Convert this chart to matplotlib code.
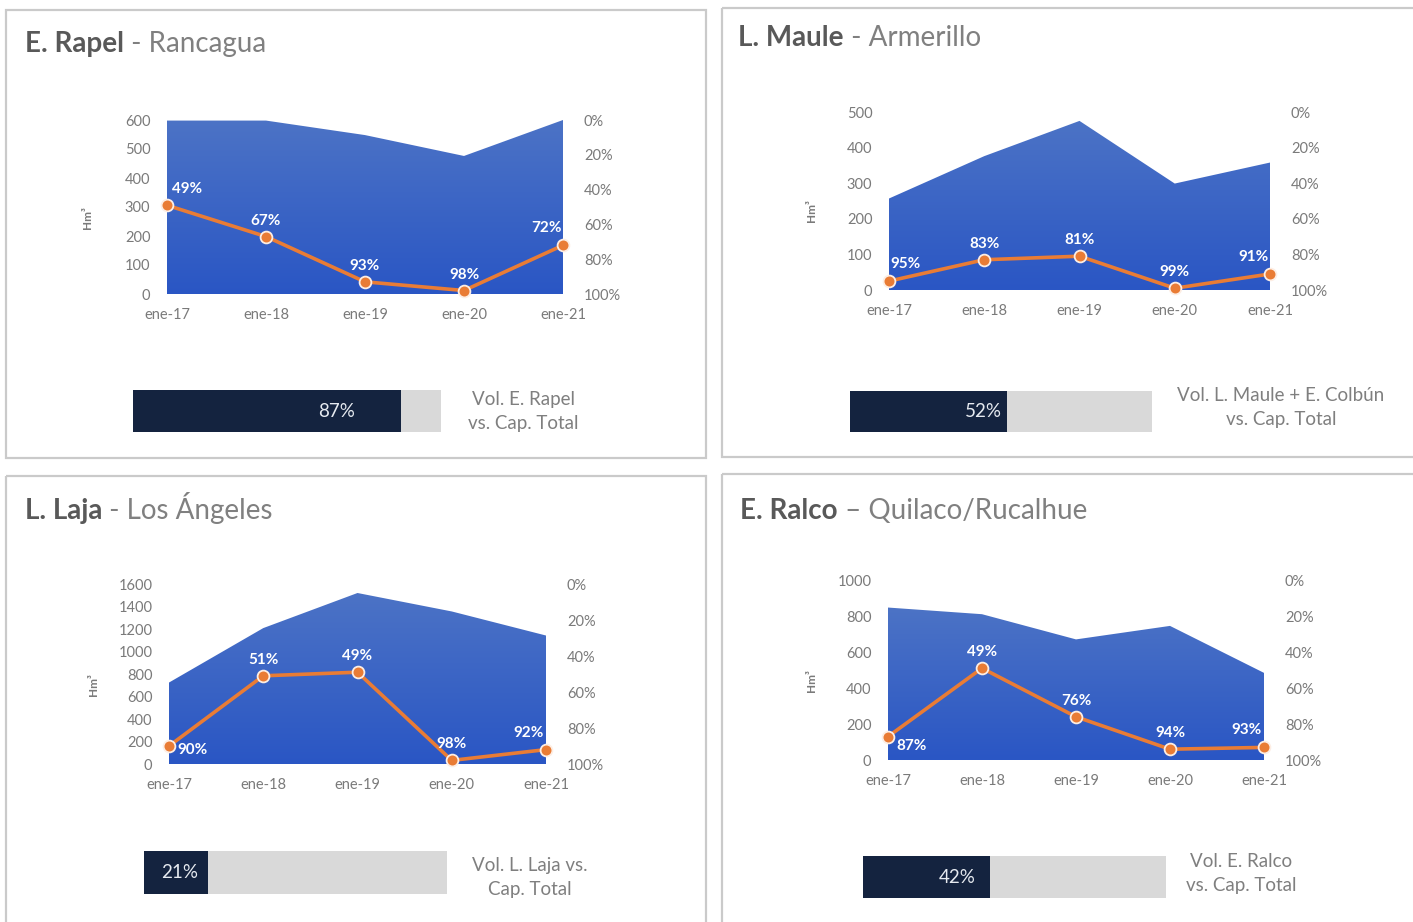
import numpy as np
import matplotlib
matplotlib.use("Agg")
import matplotlib.pyplot as plt
from matplotlib.patches import Rectangle
from matplotlib.colors import LinearSegmentedColormap
from matplotlib.ticker import FuncFormatter

plt.rcParams["font.family"] = ["Lato", "DejaVu Sans"]

# ---- data -------------------------------------------------------------
months = ["ene-17", "ene-18", "ene-19", "ene-20", "ene-21"]

rapel_vol = [598, 598, 548, 476, 600]
rapel_pct = [49, 67, 93, 98, 72]
rapel_cap = 87

maule_vol = [257, 376, 475, 299, 358]
maule_pct = [95, 83, 81, 99, 91]
maule_cap = 52

laja_vol = [724, 1208, 1520, 1356, 1142]
laja_pct = [90, 51, 49, 98, 92]
laja_cap = 21

ralco_vol = [847, 810, 670, 745, 484]
ralco_pct = [87, 49, 76, 94, 93]
ralco_cap = 42

# ---- layout (pixel coordinates, origin top-left) ------------------------
W, H, DPI = 1413, 922, 100

panels = [
    dict(name="E. Rapel", place=" - Rancagua", vol=rapel_vol, pct=rapel_pct, cap=rapel_cap,
         caption="Vol. E. Rapel\nvs. Cap. Total",
         box=(6, 10, 706, 458), title=(25, 52), plot=(167, 120, 563, 294),
         ymax=600, step=100, ylab=(88, 218), first_off=(20, 16),
         bar=(133, 390, 441, 432), bar_off=-64, cap_xy=(523, 411)),
    dict(name="L. Maule", place=" - Armerillo", vol=maule_vol, pct=maule_pct, cap=maule_cap,
         caption="Vol. L. Maule + E. Colbún\nvs. Cap. Total",
         box=(722, 8, 1422, 457), title=(738, 46), plot=(889, 112, 1270, 290),
         ymax=500, step=100, ylab=(812, 211), first_off=(16, 17),
         bar=(850, 391, 1152, 432), bar_off=-24, cap_xy=(1281, 407)),
    dict(name="L. Laja", place=" - Los Ángeles", vol=laja_vol, pct=laja_pct, cap=laja_cap,
         caption="Vol. L. Laja vs.\nCap. Total",
         box=(6, 476, 706, 930), title=(25, 519), plot=(169, 584, 546, 764),
         ymax=1600, step=200, ylab=(94, 685), first_off=(23, -4),
         bar=(144, 851, 447, 894), bar_off=-28, cap_xy=(530, 877)),
    dict(name="E. Ralco", place=" – Quilaco/Rucalhue", vol=ralco_vol, pct=ralco_pct, cap=ralco_cap,
         caption="Vol. E. Ralco\nvs. Cap. Total",
         box=(722, 474, 1422, 930), title=(740, 519), plot=(888, 580, 1264, 760),
         ymax=1000, step=200, ylab=(812, 681), first_off=(24, -9),
         bar=(863, 856, 1166, 898), bar_off=-33, cap_xy=(1241, 873)),
]

AREA_CMAP = LinearSegmentedColormap.from_list("area", ["#2a56c4", "#4c73c6"])
ORANGE = "#E97C35"
NAVY = "#14233f"
BAR_GREY = "#d9d9d9"
TICK_GREY = "#7a7a7a"
BORDER = "#cacaca"


def frac_rect(x0, y0, x1, y1):
    return [x0 / W, 1 - y1 / H, (x1 - x0) / W, (y1 - y0) / H]


fig = plt.figure(figsize=(W / DPI, H / DPI), dpi=DPI)
fig.patch.set_facecolor("white")

bg = fig.add_axes([0, 0, 1, 1])
bg.set_xlim(0, W)
bg.set_ylim(H, 0)
bg.axis("off")

pct_fmt = FuncFormatter(lambda v, _: f"{int(round(v))}%")

for p in panels:
    # panel frame
    x0, y0, x1, y1 = p["box"]
    bg.add_patch(Rectangle((x0, y0), x1 - x0, y1 - y0, fill=False,
                           edgecolor=BORDER, lw=1.6))

    # title: bold reservoir name followed by lighter location
    tx, ty = p["title"]
    t1 = bg.text(tx, ty, p["name"], fontsize=20, fontweight="bold",
                 color="#595959", va="baseline", ha="left")
    bg.annotate(p["place"], xy=(1, 0), xycoords=t1, va="bottom", ha="left",
                fontsize=20, fontweight="normal", color="#808080")

    # y-axis unit label
    lx, ly = p["ylab"]
    bg.text(lx, ly, "Hm³", rotation=90, fontsize=8.5, fontweight="bold",
            color=TICK_GREY, ha="center", va="center")

    # volume area with vertical gradient
    ax = fig.add_axes(frac_rect(*p["plot"]))
    ax.set_facecolor("none")
    x = np.arange(len(months))
    vol = np.asarray(p["vol"], dtype=float)
    poly = ax.fill_between(x, vol, 0, color="none", lw=0)
    grad = np.linspace(0, 1, 256)[:, None]
    im = ax.imshow(grad, extent=[x[0], x[-1], 0, vol.max()], origin="lower",
                   aspect="auto", cmap=AREA_CMAP, zorder=1)
    im.set_clip_path(poly.get_paths()[0], transform=ax.transData)
    ax.set_xlim(x[0], x[-1])
    ax.set_ylim(0, p["ymax"])
    ax.set_xticks(x, months)
    ax.set_yticks(np.arange(0, p["ymax"] + 1, p["step"]))
    ax.tick_params(axis="both", length=0, labelsize=10.5, colors=TICK_GREY)
    ax.tick_params(axis="y", pad=12)
    ax.tick_params(axis="x", pad=10)
    for s in ax.spines.values():
        s.set_visible(False)

    # percentage line on inverted secondary axis
    ax2 = ax.twinx()
    ax2.set_ylim(100, 0)
    ax2.set_yticks(np.arange(0, 101, 20))
    ax2.yaxis.set_major_formatter(pct_fmt)
    ax2.tick_params(axis="y", length=0, labelsize=10.5, colors=TICK_GREY, pad=15)
    for s in ax2.spines.values():
        s.set_visible(False)
    ax2.plot(x, p["pct"], color=ORANGE, lw=2.6, marker="o", ms=8.5,
             mfc=ORANGE, mec="#fdeee4", mew=1.3, clip_on=False, zorder=3)
    n = len(x)
    for i, (xi, v) in enumerate(zip(x, p["pct"])):
        if i == 0:
            off = p["first_off"]
        elif i == n - 1:
            off = (-17, 17)
        else:
            off = (0, 16)
        ax2.annotate(f"{v}%", (xi, v), xytext=off, textcoords="offset pixels",
                     ha="center", va="center", color="white",
                     fontsize=11, fontweight="bold", zorder=4,
                     annotation_clip=False)

    # capacity bar
    bax = fig.add_axes(frac_rect(*p["bar"]))
    bax.barh(0, 100, height=1, color=BAR_GREY, lw=0)
    bax.barh(0, p["cap"], height=1, color=NAVY, lw=0)
    bax.set_xlim(0, 100)
    bax.set_ylim(-0.5, 0.5)
    bax.axis("off")
    bax.annotate(f"{p['cap']}%", (p["cap"], 0), xytext=(p["bar_off"], 0),
                 textcoords="offset pixels", ha="center", va="center",
                 color="#e6eaf0", fontsize=13.5)

    cx, cy = p["cap_xy"]
    bg.text(cx, cy, p["caption"], ha="center", va="center",
            multialignment="center", fontsize=13.5, color="#7f7f7f",
            linespacing=1.5)

fig.savefig("out.png", dpi=DPI)
